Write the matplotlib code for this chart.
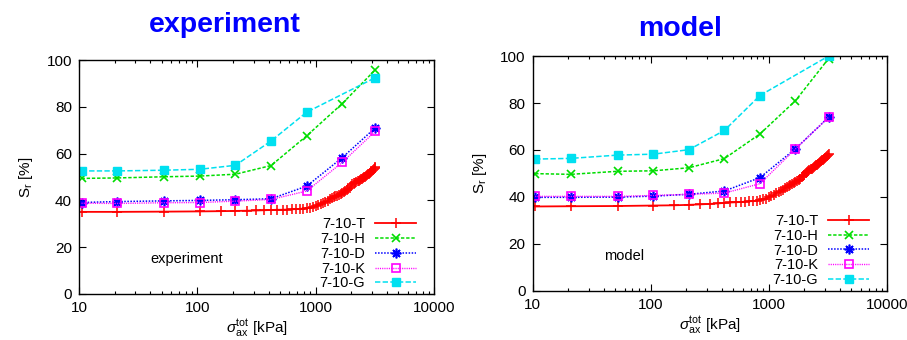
import numpy as np
import matplotlib
matplotlib.use("Agg")
import matplotlib.pyplot as plt
from matplotlib.ticker import LogLocator, FixedLocator, NullLocator

plt.rc('font', family=['Liberation Sans', 'DejaVu Sans'])
plt.rc('mathtext', fontset='custom', rm='Liberation Sans', it='Liberation Sans:italic')

#--------------------------------------------------
# data
x_step = [10.5, 21, 52.5, 105, 210, 420, 840, 1680, 3200]
x_G = [10.5, 21, 52.5, 105, 210, 420, 840, 3200]

x_T = [10.5, 21, 52.5, 105, 157.5, 210, 262.5, 315, 367.5, 420, 472.5, 525,
       577.5, 630, 682.5, 735, 787.5, 840, 892.5, 945, 997.5, 1050, 1102.5,
       1155, 1207.5, 1260, 1312.5, 1365, 1417.5, 1470, 1522.5, 1575, 1627.5,
       1680, 1732.5, 1785, 1837.5, 1890, 1942.5, 1995, 2047.5, 2100, 2152.5,
       2205, 2257.5, 2310, 2362.5, 2415, 2467.5, 2520, 2572.5, 2625, 2677.5,
       2730, 2782.5, 2835, 2887.5, 2940, 2992.5, 3045, 3097.5, 3150, 3202.5]

exp_T = [35.1, 35.1, 35.2, 35.3, 35.4, 35.5, 35.6, 35.7, 35.8, 35.9, 36.0, 36.0,
         36.1, 36.2, 36.3, 36.4, 36.5, 36.7, 36.9, 37.2, 37.5, 37.9, 38.4,
         38.9, 39.4, 39.9, 40.4, 40.9, 41.3, 41.7, 42.0, 42.4, 42.8,
         43.2, 43.6, 44.0, 44.5, 45.0, 45.5, 46.1, 46.8, 47.3, 47.6,
         47.8, 48.1, 48.4, 48.7, 49.0, 49.3, 49.6, 49.9, 50.2, 50.5,
         50.8, 51.1, 51.4, 51.8, 52.2, 52.6, 53.0, 53.4, 53.8, 54.2]
exp_H = [49.4, 49.6, 50.1, 50.4, 51.2, 54.9, 67.6, 81.4, 95.9]
exp_D = [39.1, 39.5, 39.8, 40.0, 40.3, 40.7, 46.1, 58.3, 71.1]
exp_K = [38.8, 38.7, 39.0, 39.1, 39.7, 40.4, 44.0, 56.3, 69.6]
exp_G = [52.6, 52.6, 52.9, 53.3, 55.0, 65.4, 77.7, 92.5]

mod_T = [35.9, 36.0, 36.1, 36.3, 36.4, 36.6, 36.8, 37.0, 37.2, 37.4, 37.6, 37.7,
         37.8, 38.0, 38.1, 38.2, 38.4, 38.6, 38.9, 39.3, 39.8, 40.3, 40.9,
         41.5, 42.1, 42.6, 43.1, 43.6, 44.0, 44.5, 44.9, 45.4, 45.9,
         46.4, 46.8, 47.3, 47.8, 48.3, 48.9, 49.5, 50.2, 50.8, 51.1,
         51.4, 51.7, 52.0, 52.4, 52.7, 53.0, 53.4, 53.7, 54.0, 54.4,
         54.8, 55.1, 55.5, 55.8, 56.2, 56.6, 57.0, 57.4, 57.9, 58.3]
mod_H = [49.9, 49.6, 50.9, 51.1, 52.4, 56.3, 66.8, 81.0, 98.9]
mod_D = [39.8, 39.8, 39.9, 40.3, 41.1, 42.5, 48.2, 60.5, 73.9]
mod_K = [40.2, 40.2, 40.2, 40.6, 41.1, 41.6, 45.6, 60.4, 73.9]
mod_G = [56.1, 56.4, 57.8, 58.2, 60.1, 68.3, 83.2, 100.0]

labels = ['7-10-T', '7-10-H', '7-10-D', '7-10-K', '7-10-G']

#--------------------------------------------------
fig = plt.figure(1, figsize=(9.07, 3.40), dpi=100)

ax_exp = fig.add_axes([0.0871, 0.1353, 0.3914, 0.6882])
ax_mod = fig.add_axes([0.5873, 0.1450, 0.3906, 0.6900])

asterisk = (8, 2, 0)

def draw_panel(ax, yT, yH, yD, yK, yG, note, note_xy):
    ax.plot(x_T, yT, color='#ff0000', lw=1.3, ls='-', marker='+', ms=6.5,
            mew=1.1, label=labels[0])
    ax.plot(x_step, yH, color='#00dd00', lw=1.1, ls=(0, (2.2, 1.2)), marker='x',
            ms=6, mew=1.2, label=labels[1])
    ax.plot(x_step, yD, color='#0000ff', lw=1.1, ls=(0, (1.0, 1.0)),
            marker=asterisk, ms=7, mew=1.2, label=labels[2])
    ax.plot(x_step, yK, color='#ff00ff', lw=1.0, ls=(0, (0.8, 0.8)), marker='s',
            ms=6, mew=1.2, mfc='none', label=labels[3])
    ax.plot(x_G, yG, color='#00e0f0', lw=1.1, ls=(0, (3.5, 1.5)), marker='s',
            ms=6, label=labels[4])

    ax.set_xscale('log')
    ax.set_xlim(10, 10000)
    ax.set_ylim(0, 100)
    ax.yaxis.set_major_locator(FixedLocator([0, 20, 40, 60, 80, 100]))
    ax.yaxis.set_minor_locator(NullLocator())
    ax.xaxis.set_minor_locator(LogLocator(base=10, subs=np.arange(2, 10), numticks=20))
    ax.set_xticks([10, 100, 1000, 10000])
    ax.set_xticklabels(['10', '100', '1000', '10000'])

    ax.tick_params(which='both', direction='in', top=True, right=True,
                   labelsize=11, width=0.8)
    ax.tick_params(which='major', length=5, pad=5)
    ax.tick_params(which='minor', length=2.5)
    for s in ax.spines.values():
        s.set_linewidth(1.0)

    ax.set_ylabel(r'S$_\mathrm{r}$ [%]', fontsize=11, labelpad=8)
    ax.set_xlabel(r'$\sigma_\mathrm{ax}^\mathrm{tot}$ [kPa]', fontsize=11, labelpad=2)

    ax.text(note_xy[0], note_xy[1], note, fontsize=10.5, ha='center', va='center')

    leg = ax.legend(loc='lower right', bbox_to_anchor=(0.96, 0.0),
                    markerfirst=False, frameon=False, fontsize=10.5,
                    handlelength=2.8, handletextpad=0.7, labelspacing=0.05,
                    borderpad=0.25, borderaxespad=0.0, numpoints=1)
    for t in leg.get_texts():
        t.set_ha('right')

draw_panel(ax_exp, exp_T, exp_H, exp_D, exp_K, exp_G, 'experiment', (81, 15))
draw_panel(ax_mod, mod_T, mod_H, mod_D, mod_K, mod_G, 'model', (59, 15))

fig.text(0.248, 0.925, 'experiment', color='#0000ff', fontsize=20.5,
         fontweight='bold', ha='center', va='center')
fig.text(0.750, 0.915, 'model', color='#0000ff', fontsize=20.5,
         fontweight='bold', ha='center', va='center')

fig.savefig('out.png', dpi=100)
